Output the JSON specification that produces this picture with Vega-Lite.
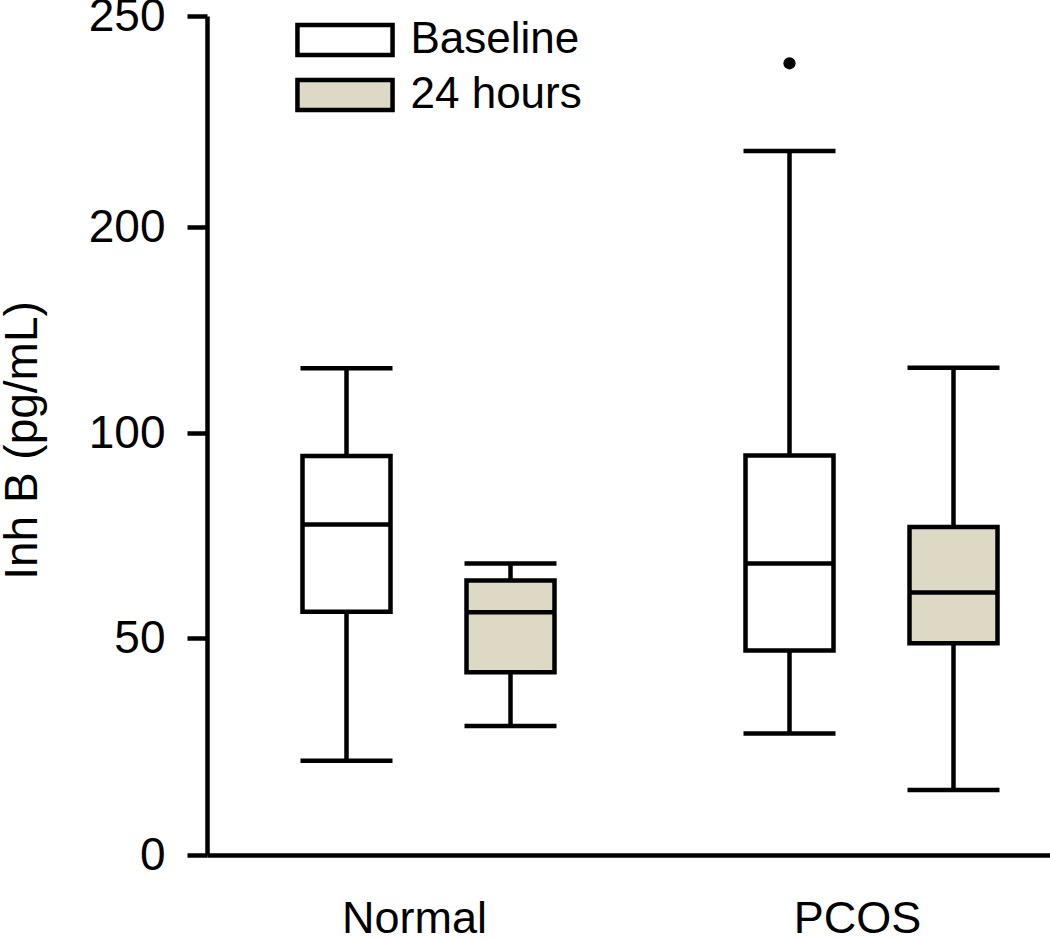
{
  "$schema": "https://vega.github.io/schema/vega-lite/v6.json",
  "width": 841,
  "height": 839,
  "autosize": {"type": "none"},
  "padding": {"left": 207, "top": 16, "right": 2, "bottom": 84},
  "background": "white",
  "config": {"view": {"stroke": null}, "font": "Liberation Sans"},
  "datasets": {
    "boxes": [
      {"group": "Normal", "time": "Baseline", "low": 21.7, "q1": 56.4, "median": 77.7, "q3": 94.4, "high": 131.4},
      {"group": "Normal", "time": "24 hours", "low": 29.7, "q1": 42.1, "median": 56.3, "q3": 64.0, "high": 68.2},
      {"group": "PCOS", "time": "Baseline", "low": 28.0, "q1": 47.1, "median": 68.2, "q3": 94.5, "high": 218.0},
      {"group": "PCOS", "time": "24 hours", "low": 15.0, "q1": 48.8, "median": 61.1, "q3": 77.1, "high": 131.7}
    ],
    "outliers": [
      {"group": "PCOS", "time": "Baseline", "value": 238.8}
    ]
  },
  "data": {"name": "boxes"},
  "encoding": {
    "x": {
      "field": "group", "type": "nominal", "sort": ["Normal", "PCOS"],
      "scale": {"range": [0, 886], "paddingInner": 0, "paddingOuter": 0},
      "axis": {
        "title": null, "orient": "bottom", "domainWidth": 4.5, "domainColor": "black",
        "ticks": false, "tickSize": 0, "labelFontSize": 45, "labelPadding": 41,
        "labelColor": "black", "labelAngle": 0, "labelOffset": -14, "labelFont": "Liberation Sans"
      }
    },
    "xOffset": {
      "field": "time", "type": "nominal", "sort": ["Baseline", "24 hours"],
      "scale": {"range": [57.5, 385.5], "paddingInner": 0, "paddingOuter": 0}
    }
  },
  "layer": [
    {
      "mark": {"type": "rule", "color": "black", "strokeWidth": 4.5},
      "encoding": {
        "y": {
          "field": "low", "type": "quantitative",
          "scale": {"domain": [0, 50, 100, 200, 250], "range": [839, 622, 417, 211, 0], "zero": false, "nice": false},
          "axis": {
            "title": "Inh B (pg/mL)", "values": [0, 50, 100, 200, 250], "grid": false,
            "domainWidth": 4.5, "domainColor": "black", "tickWidth": 4.5, "tickColor": "black", "tickSize": 20,
            "labelFontSize": 46, "labelPadding": 22, "labelColor": "black", "labelFont": "Liberation Sans",
            "labelFlush": false, "labelOverlap": false,
            "titleFontSize": 46, "titleFont": "Liberation Sans", "titleFontWeight": "normal", "titleColor": "black",
            "titleX": -171, "titleY": 424, "titleBaseline": "alphabetic", "titleAngle": 270
          }
        },
        "y2": {"field": "high"}
      }
    },
    {
      "mark": {"type": "bar", "stroke": "black", "strokeWidth": 4.5, "width": 88, "opacity": 1},
      "encoding": {
        "y": {"field": "q1", "type": "quantitative"},
        "y2": {"field": "q3"},
        "fill": {
          "field": "time", "type": "nominal",
          "scale": {"domain": ["Baseline", "24 hours"], "range": ["white", "#ddd9c4"]},
          "legend": {
            "title": null, "orient": "none", "legendX": 116, "legendY": 2,
            "symbolType": "M-3.17,-1H3.17V1H-3.17Z", "symbolSize": 900,
            "symbolStrokeColor": "black", "symbolStrokeWidth": 4.5, "symbolOpacity": 1,
            "labelFontSize": 44, "labelOffset": 43.5, "labelLimit": 0, "rowPadding": 7, "padding": 0,
            "labelFont": "Liberation Sans", "labelColor": "black"
          }
        }
      }
    },
    {
      "mark": {"type": "tick", "color": "black", "size": 88, "thickness": 4.5, "opacity": 1},
      "encoding": {"y": {"field": "median", "type": "quantitative"}}
    },
    {
      "mark": {"type": "tick", "color": "black", "size": 92, "thickness": 4.5, "opacity": 1},
      "encoding": {"y": {"field": "low", "type": "quantitative"}}
    },
    {
      "mark": {"type": "tick", "color": "black", "size": 92, "thickness": 4.5, "opacity": 1},
      "encoding": {"y": {"field": "high", "type": "quantitative"}}
    },
    {
      "data": {"name": "outliers"},
      "mark": {"type": "point", "filled": true, "color": "black", "size": 150, "opacity": 1},
      "encoding": {"y": {"field": "value", "type": "quantitative"}}
    }
  ]
}
